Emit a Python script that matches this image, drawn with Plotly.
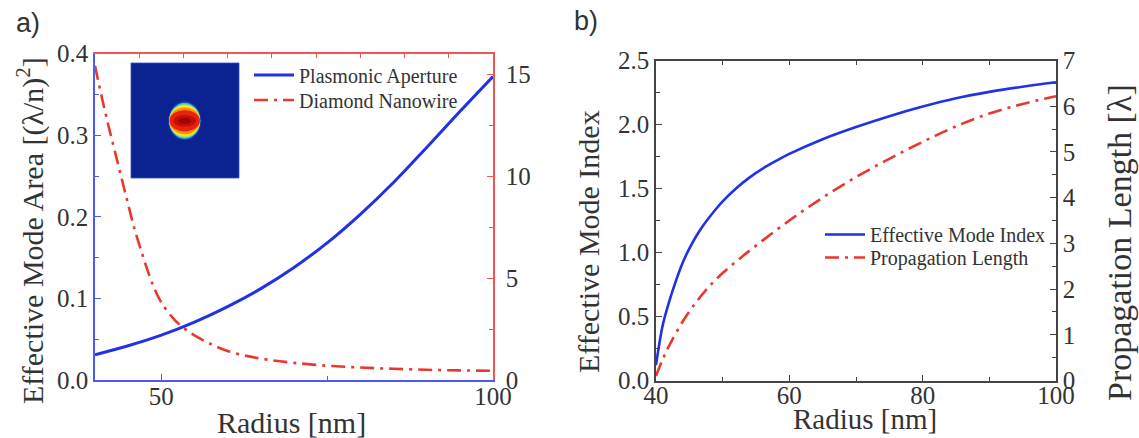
import plotly.graph_objects as go

W, H = 1139, 438

# ---- panel a: effective mode area versus radius ----
radius_aperture = [40, 45, 50, 55, 60, 65, 70, 75, 80, 85, 90, 95, 100]
area_aperture = [0.031, 0.042, 0.055, 0.071, 0.090, 0.112, 0.138, 0.168,
                 0.203, 0.242, 0.285, 0.329, 0.372]

radius_nanowire = [40, 41, 42, 43, 44, 45, 46, 47, 48, 49, 50, 52, 54, 56,
                   58, 60, 63, 66, 70, 75, 80, 85, 90, 95, 100]
area_nanowire = [15.4, 13.9, 12.5, 11.2, 9.9, 8.6, 7.35, 6.3, 5.3, 4.45, 3.8,
                 2.95, 2.4, 2.0, 1.68, 1.42, 1.17, 1.0, 0.84, 0.70, 0.61,
                 0.55, 0.50, 0.47, 0.45]

# ---- panel b: mode index and propagation length versus radius ----
radius_index = [40, 41, 42, 43, 44, 45, 46, 47, 48, 49, 50, 52, 54, 56, 58,
                60, 65, 70, 75, 80, 85, 90, 95, 100]
mode_index = [0.12, 0.43, 0.62, 0.78, 0.92, 1.03, 1.125, 1.205, 1.275, 1.34,
              1.40, 1.50, 1.585, 1.655, 1.715, 1.77, 1.885, 1.98, 2.065,
              2.14, 2.205, 2.255, 2.295, 2.33]

radius_prop = [40, 41, 42, 44, 46, 48, 50, 52.5, 55, 60, 65, 70, 75, 80, 85,
               90, 95, 100]
prop_length = [0.10, 0.46, 0.77, 1.29, 1.71, 2.06, 2.35, 2.66, 2.95, 3.50,
               4.00, 4.45, 4.85, 5.22, 5.56, 5.84, 6.05, 6.22]

BLUE = "#1f32e6"
RED = "#e8392e"
AX_BLUE = "#4a5cf0"
AX_RED = "#f05555"
AX_DARK = "#444444"
TXT = "#333333"
SERIF = "Liberation Serif"
SANS = "Liberation Sans"
DASHDOT = "14px,6px,3px,6px"


def fx(px):
    return px / W


def fy(py):
    return 1 - py / H


fig = go.Figure()

fig.add_trace(go.Scatter(
    x=radius_aperture, y=area_aperture, name="Plasmonic Aperture",
    mode="lines", line=dict(color=BLUE, width=3, shape="spline"),
    xaxis="x", yaxis="y", legend="legend"))
fig.add_trace(go.Scatter(
    x=radius_nanowire, y=area_nanowire, name="Diamond Nanowire",
    mode="lines", line=dict(color=RED, width=2.6, dash=DASHDOT, shape="spline"),
    xaxis="x2", yaxis="y2", legend="legend2"))

fig.add_trace(go.Scatter(
    x=radius_index, y=mode_index, name="Effective Mode Index",
    mode="lines", line=dict(color=BLUE, width=2.6, shape="spline"),
    xaxis="x3", yaxis="y3", legend="legend3"))
fig.add_trace(go.Scatter(
    x=radius_prop, y=prop_length, name="Propagation Length",
    mode="lines", line=dict(color=RED, width=2.6, dash=DASHDOT, shape="spline"),
    xaxis="x4", yaxis="y4", legend="legend4"))

# empty trace that carries the inset axes
fig.add_trace(go.Scatter(x=[None], y=[None], xaxis="x5", yaxis="y5",
                         showlegend=False, hoverinfo="skip"))

tick_font = dict(family=SERIF, size=25, color=TXT)


def axis(**kw):
    base = dict(showgrid=False, zeroline=False, showline=True, linewidth=1.5,
                ticks="inside", ticklen=6, tickwidth=1.2, tickfont=tick_font,
                fixedrange=True, automargin=False)
    base.update(kw)
    return base


def legend_box(left_px, top_px):
    return dict(x=fx(left_px), y=fy(top_px), xanchor="left", yanchor="top",
                bgcolor="rgba(0,0,0,0)", itemwidth=40, tracegroupgap=0,
                font=dict(family=SERIF, size=20, color=TXT))


xa_dom = [fx(95), fx(493)]
ya_dom = [fy(380), fy(53.6)]
xb_dom = [fx(656), fx(1056)]
yb_dom = [fy(380.5), fy(60.5)]

fig.update_layout(
    width=W, height=H, autosize=False,
    margin=dict(l=0, r=0, t=0, b=0, pad=0, autoexpand=False),
    paper_bgcolor="white", plot_bgcolor="white",
    showlegend=True,
    xaxis=axis(domain=xa_dom, anchor="y", range=[40, 100], tick0=0, dtick=50,
               linecolor=AX_BLUE, tickcolor=AX_BLUE, ticklabelstandoff=-7,
               minor=dict(dtick=25, ticks="inside", ticklen=4,
                          tickcolor=AX_BLUE)),
    xaxis2=axis(overlaying="x", side="top", anchor="y", range=[40, 100],
                tick0=40, dtick=20 / 3, showticklabels=False,
                linecolor=AX_RED, tickcolor=AX_RED, ticklen=5),
    yaxis=axis(domain=ya_dom, anchor="x", range=[0, 0.4], dtick=0.1,
               tickformat=".1f", linecolor=AX_BLUE, tickcolor=AX_BLUE,
               minor=dict(dtick=0.05, ticks="inside", ticklen=4,
                          tickcolor=AX_BLUE)),
    yaxis2=axis(overlaying="y", side="right", anchor="x", range=[0, 16],
                dtick=5, linecolor=AX_RED, tickcolor=AX_RED,
                ticklabelstandoff=6,
                minor=dict(dtick=2.5, ticks="inside", ticklen=4,
                           tickcolor=AX_RED)),
    xaxis3=axis(domain=xb_dom, anchor="y3", range=[40, 100], dtick=20,
                linecolor=AX_DARK, tickcolor=AX_DARK, ticklabelstandoff=-8,
                minor=dict(dtick=10, ticks="inside", ticklen=4,
                           tickcolor=AX_DARK)),
    xaxis4=axis(overlaying="x3", side="top", anchor="y3", range=[40, 100],
                dtick=10, showticklabels=False, linecolor=AX_DARK,
                tickcolor=AX_DARK, ticklen=5),
    yaxis3=axis(domain=yb_dom, anchor="x3", range=[0, 2.5], dtick=0.5,
                tickformat=".1f", linecolor=AX_DARK, tickcolor=AX_DARK,
                minor=dict(dtick=0.25, ticks="inside", ticklen=4,
                           tickcolor=AX_DARK)),
    yaxis4=axis(overlaying="y3", side="right", anchor="x3", range=[0, 7],
                dtick=1, linecolor=AX_DARK, tickcolor=AX_DARK,
                minor=dict(dtick=0.5, ticks="inside", ticklen=4,
                           tickcolor=AX_DARK)),
    xaxis5=dict(domain=[fx(131), fx(239)], anchor="y5", range=[0, 108],
                visible=False, fixedrange=True),
    yaxis5=dict(domain=[fy(178), fy(63)], anchor="x5", range=[0, 115],
                visible=False, fixedrange=True),
    legend=legend_box(249, 55.5),
    legend2=legend_box(249, 80.5),
    legend3=legend_box(820, 215),
    legend4=legend_box(820, 238),
)

# inset: mode profile of the aperture
cx, cy = 53.7, 57.2
profile_layers = [
    # (half-width, half-height, colour, opacity)
    (16.5, 19.5, "#1d5ad0", 0.55),
    (15.6, 18.0, "#36c4ea", 0.95),
    (15.5, 16.6, "#a6ee58", 1.0),
    (15.4, 15.2, "#ffe41c", 1.0),
    (15.3, 13.4, "#ff8c10", 1.0),
    (15.2, 10.6, "#e8220c", 1.0),
    (11.5, 5.8, "#b80c08", 0.8),
    (6.5, 3.0, "#880000", 0.6),
]
shapes = [dict(type="rect", xref="x5 domain", yref="y5 domain",
               x0=0, x1=1, y0=0, y1=1, fillcolor="#0b2291",
               line=dict(width=0.8, color="#3050c0"), layer="above")]
for rx, ry, col, op in profile_layers:
    shapes.append(dict(type="circle", xref="x5", yref="y5",
                       x0=cx - rx, x1=cx + rx, y0=cy - ry, y1=cy + ry,
                       fillcolor=col, opacity=op, line=dict(width=0),
                       layer="above"))
fig.update_layout(shapes=shapes)

title_font = dict(family=SERIF, size=30, color=TXT)
annotations = [
    dict(text="a)", x=fx(14), y=fy(23), xanchor="left", yanchor="middle",
         font=dict(family=SANS, size=27, color=TXT)),
    dict(text="b)", x=fx(572), y=fy(21), xanchor="left", yanchor="middle",
         font=dict(family=SANS, size=27, color=TXT)),
    dict(text="Effective Mode Area [(λ/n)<sup>2</sup>]", x=fx(30), y=fy(231),
         textangle=-90, xanchor="center", yanchor="middle",
         font=title_font),
    dict(text="Radius [nm]", x=fx(291), y=fy(422), xanchor="center",
         yanchor="middle", font=title_font),
    dict(text="Effective Mode Index", x=fx(588), y=fy(241), textangle=-90,
         xanchor="center", yanchor="middle", font=title_font),
    dict(text="Radius [nm]", x=fx(865), y=fy(419), xanchor="center",
         yanchor="middle", font=dict(family=SERIF, size=29, color=TXT)),
    dict(text="Propagation Length [λ]", x=fx(1119), y=fy(243),
         textangle=-90, xanchor="center", yanchor="middle",
         font=dict(family=SERIF, size=34, color=TXT)),
]
for a in annotations:
    a.update(xref="paper", yref="paper", showarrow=False)
fig.update_layout(annotations=annotations)

fig.write_html("out.html")
